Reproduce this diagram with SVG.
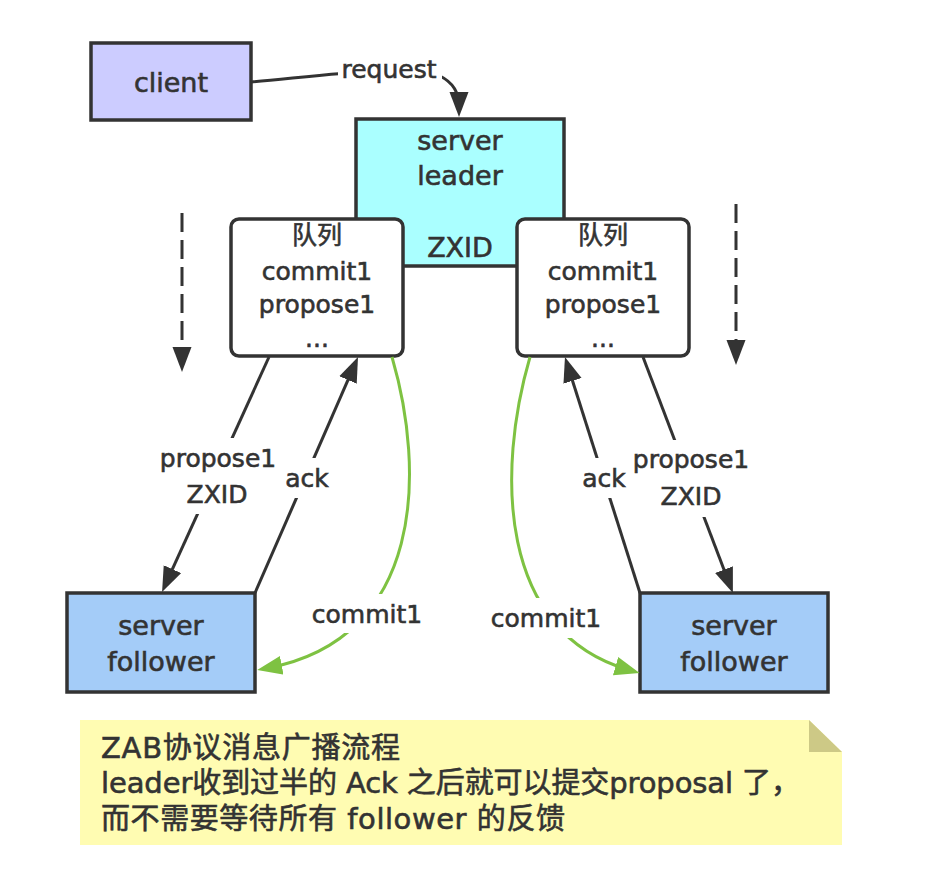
<svg xmlns="http://www.w3.org/2000/svg" width="948" height="890" viewBox="0 0 948 890">
<style>
.t{font-family:"DejaVu Sans","Noto Sans CJK SC",sans-serif;fill:#333;stroke:#333;stroke-width:0.6;text-anchor:middle}
.n{font-family:"DejaVu Sans","Noto Sans CJK SC",sans-serif;fill:#333;stroke:#333;stroke-width:0.6;font-size:29px}
.b{stroke:#333;stroke-width:3.5}
.c{fill:none;stroke:#333;stroke-width:3}
.g{fill:none;stroke:#7ec242;stroke-width:3}
.bg{fill:#fff}
</style>
<defs>
<marker id="ah" markerUnits="userSpaceOnUse" markerWidth="26" markerHeight="20" refX="14" refY="10" orient="auto"><path d="M0,0.5 L25,10 L0,19.5 z" fill="#333"/></marker>
<marker id="ahg" markerUnits="userSpaceOnUse" markerWidth="26" markerHeight="20" refX="14" refY="10" orient="auto"><path d="M0,0.5 L25,10 L0,19.5 z" fill="#7ec242"/></marker>
</defs>
<rect width="948" height="890" fill="#fff"/>
<g id="client"><rect class="b" x="91" y="43" width="160" height="77" fill="#ccccff"/><text class="t" x="171" y="92" font-size="27">client</text></g>
<g id="leader"><rect class="b" x="356" y="119" width="208" height="147" fill="#aaffff"/><text class="t" x="460" y="150" font-size="27">server</text><text class="t" x="460" y="185" font-size="27">leader</text><text class="t" x="460" y="257" font-size="27">ZXID</text></g>
<g id="queue-left"><rect class="b" x="231" y="219" width="172" height="137" rx="8" fill="#fff"/><text class="t" x="317" y="244" font-size="25">队列</text><text class="t" x="317" y="280" font-size="25">commit1</text><text class="t" x="317" y="313" font-size="25">propose1</text><text class="t" x="317" y="347" font-size="25">...</text></g>
<g id="queue-right"><rect class="b" x="517" y="219" width="172" height="137" rx="8" fill="#fff"/><text class="t" x="603" y="244" font-size="25">队列</text><text class="t" x="603" y="280" font-size="25">commit1</text><text class="t" x="603" y="313" font-size="25">propose1</text><text class="t" x="603" y="347" font-size="25">...</text></g>
<g id="follower-left"><rect class="b" x="67" y="593" width="188" height="99" fill="#a4ccf8"/><text class="t" x="161" y="635" font-size="27">server</text><text class="t" x="161" y="671" font-size="27">follower</text></g>
<g id="follower-right"><rect class="b" x="640" y="593" width="188" height="99" fill="#a4ccf8"/><text class="t" x="734" y="635" font-size="27">server</text><text class="t" x="734" y="671" font-size="27">follower</text></g>
<g id="connectors">
<path class="c" d="M251,82 C320,76 400,64 440,76 C452,82 459,92 459,106" marker-end="url(#ah)"/>
<line class="c" x1="182" y1="213" x2="182" y2="361" stroke-dasharray="19 8" marker-end="url(#ah)"/>
<line class="c" x1="736" y1="204" x2="736" y2="354" stroke-dasharray="19 8" marker-end="url(#ah)"/>
<line class="c" x1="269" y1="357" x2="166.6" y2="581.9" marker-end="url(#ah)"/>
<line class="c" x1="255" y1="593" x2="353.6" y2="367.1" marker-end="url(#ah)"/>
<line class="c" x1="643" y1="357" x2="729" y2="582.7" marker-end="url(#ah)"/>
<line class="c" x1="640" y1="593" x2="568.3" y2="367.5" marker-end="url(#ah)"/>
<path class="g" d="M392,357 C425,470 425,638 268,668" marker-end="url(#ahg)"/>
<path class="g" d="M530,357 C497,470 497,632 629,670" marker-end="url(#ahg)"/>
<rect class="bg" x="338" y="56" width="104" height="28"/>
<text class="t" x="389" y="78" font-size="25">request</text>
<rect class="bg" x="156" y="438" width="124" height="76"/>
<text class="t" x="218" y="467" font-size="25">propose1</text>
<text class="t" x="217" y="503" font-size="25">ZXID</text>
<rect class="bg" x="282" y="458" width="52" height="40"/>
<text class="t" x="307" y="487" font-size="25">ack</text>
<rect class="bg" x="308" y="594" width="118" height="39"/>
<text class="t" x="367" y="623" font-size="25">commit1</text>
<rect class="bg" x="579" y="458" width="51" height="40"/>
<text class="t" x="604" y="487" font-size="25">ack</text>
<rect class="bg" x="629" y="440" width="125" height="77"/>
<text class="t" x="691" y="468" font-size="25">propose1</text>
<text class="t" x="691" y="505" font-size="25">ZXID</text>
<rect class="bg" x="488" y="598" width="116" height="40"/>
<text class="t" x="546" y="627" font-size="25">commit1</text>
</g>
<g id="note">
<path d="M80,720 L809,720 L842,752 L842,845 L80,845 z" fill="#fffcb2"/>
<path d="M809,720 L809,752 L842,752 z" fill="#cdc986"/>
<text class="n" x="101" y="758" textLength="299">ZAB协议消息广播流程</text>
<text class="n" x="101" y="793" textLength="699">leader收到过半的 Ack 之后就可以提交proposal 了，</text>
<text class="n" x="101" y="829" textLength="464">而不需要等待所有 follower 的反馈</text>
</g>
</svg>
